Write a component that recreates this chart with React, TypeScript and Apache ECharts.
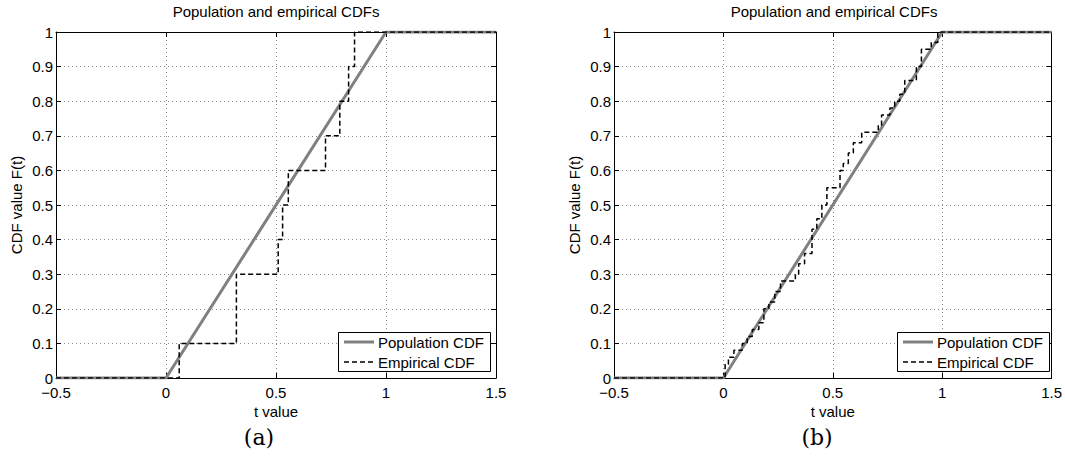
import React, { useEffect, useRef } from "react";
import * as echarts from "echarts";

const X_MIN = -0.5;
const X_MAX = 1.5;
const X_STEP = 0.5;
const Y_MIN = 0;
const Y_MAX = 1;
const Y_STEP = 0.1;

const TITLE = "Population and empirical CDFs";
const X_NAME = "t value";
const Y_NAME = "CDF value F(t)";
const PANEL_LABELS = ["(a)", "(b)"];
const LEGEND_NAMES = ["Population CDF", "Empirical CDF"];

// Population CDF (uniform on [0,1])
const popT = [-0.5, 0, 1, 1.5];
const popF = [0, 0, 1, 1];

// Empirical CDF (a): jump locations and levels after jump
const empAT = [0.06, 0.32, 0.51, 0.53, 0.556, 0.725, 0.79, 0.83, 0.857];
const empAF = [0.1, 0.3, 0.4, 0.5, 0.6, 0.7, 0.8, 0.9, 1.0];

// Empirical CDF (b)
const empBT = [0.008, 0.023, 0.048, 0.086, 0.109, 0.132, 0.162, 0.185, 0.208, 0.235, 0.261, 0.329, 0.344, 0.371, 0.405, 0.427, 0.45, 0.473, 0.533, 0.548, 0.571, 0.594, 0.632, 0.708, 0.723, 0.761, 0.783, 0.806, 0.829, 0.882, 0.905, 0.95, 0.98];
const empBF = [0.04, 0.06, 0.08, 0.1, 0.12, 0.14, 0.16, 0.2, 0.22, 0.25, 0.28, 0.3, 0.33, 0.36, 0.43, 0.46, 0.5, 0.55, 0.6, 0.62, 0.65, 0.68, 0.71, 0.73, 0.76, 0.78, 0.8, 0.82, 0.86, 0.9, 0.95, 0.97, 1.0];

const FONT = "'Liberation Sans', Arial, Helvetica, sans-serif";
const SERIF = "'DejaVu Serif', 'Liberation Serif', serif";
const POP_COLOR = "#808080";
const EMP_DASH = [5, 3];

function empData(ts: number[], fs: number[]) {
  const d: number[][] = [[X_MIN, 0]];
  ts.forEach((t, i) => d.push([t, fs[i]]));
  d.push([X_MAX, fs[fs.length - 1]]);
  return d;
}

const fmtX = (v: number) => (v < 0 ? "\u2212" + String(-v) : String(v));
const fmtY = (v: number) => String(Math.round(v * 10) / 10);

export default function App() {
  const ref = useRef<HTMLDivElement>(null);
  useEffect(() => {
    if (!ref.current) return;
    const chart = echarts.init(ref.current, undefined, { renderer: "svg" });
    const grids = [
      { left: 56, right: 569, top: 32, bottom: 80 },
      { left: 614, right: 11, top: 32, bottom: 80 },
    ];
    const xAxes: any[] = [];
    const yAxes: any[] = [];
    const tickStyle = { show: true, inside: true, length: 5, lineStyle: { color: "#000" } };
    const lineStyle = { show: true, onZero: false, lineStyle: { color: "#000", width: 1 } };
    const gridLine = { show: true, lineStyle: { color: "#8a8a8a", type: [1, 3], width: 1 } };
    grids.forEach((_, gi) => {
      xAxes.push({
        type: "value", gridIndex: gi, min: X_MIN, max: X_MAX, interval: X_STEP,
        position: "bottom",
        name: X_NAME, nameLocation: "middle", nameGap: 21,
        nameTextStyle: { fontFamily: FONT, fontSize: 15, color: "#000" },
        axisLine: lineStyle, axisTick: tickStyle,
        axisLabel: { formatter: fmtX, fontFamily: FONT, fontSize: 15, color: "#000", margin: 8, lineHeight: 12 },
        splitLine: gridLine,
      });
      xAxes.push({
        type: "value", gridIndex: gi, min: X_MIN, max: X_MAX, interval: X_STEP,
        position: "top",
        axisLine: lineStyle, axisTick: tickStyle,
        axisLabel: { show: false }, splitLine: { show: false },
      });
      yAxes.push({
        type: "value", gridIndex: gi, min: Y_MIN, max: Y_MAX, interval: Y_STEP,
        position: "left",
        name: Y_NAME, nameLocation: "middle", nameGap: 32,
        nameTextStyle: { fontFamily: FONT, fontSize: 15, color: "#000" },
        axisLine: lineStyle, axisTick: tickStyle,
        axisLabel: { formatter: fmtY, fontFamily: FONT, fontSize: 15, color: "#000", margin: 3, lineHeight: 11 },
        splitLine: gridLine,
      });
      yAxes.push({
        type: "value", gridIndex: gi, min: Y_MIN, max: Y_MAX, interval: Y_STEP,
        position: "right",
        axisLine: lineStyle, axisTick: tickStyle,
        axisLabel: { show: false }, splitLine: { show: false },
      });
    });

    const popData = popT.map((t, i) => [t, popF[i]]);
    const empSets = [empData(empAT, empAF), empData(empBT, empBF)];
    const series: any[] = [];
    grids.forEach((_, gi) => {
      series.push({
        type: "line", name: LEGEND_NAMES[0], xAxisIndex: gi * 2, yAxisIndex: gi * 2,
        data: popData, symbol: "none", showSymbol: false,
        lineStyle: { color: POP_COLOR, width: 3 }, itemStyle: { color: POP_COLOR },
        silent: true,
      });
      series.push({
        type: "line", name: LEGEND_NAMES[1], xAxisIndex: gi * 2, yAxisIndex: gi * 2,
        data: empSets[gi], step: "end", symbol: "none", showSymbol: false,
        lineStyle: { color: "#000", width: 1.5, type: EMP_DASH }, itemStyle: { color: "#000" },
        silent: true,
      });
    });

    const graphics: any[] = [];
    const titleCenters = [276, 834];
    const labelCenters = [259, 817];
    const legendLefts = [338, 897];
    titleCenters.forEach((cx, i) => {
      graphics.push({
        type: "text", x: cx, y: 11,
        style: { text: TITLE, fontFamily: FONT, fontSize: 15, fill: "#000", textAlign: "center", textVerticalAlign: "middle" },
      });
      graphics.push({
        type: "text", x: labelCenters[i], y: 437,
        style: { text: PANEL_LABELS[i], fontFamily: SERIF, fontSize: 22, fill: "#000", textAlign: "center", textVerticalAlign: "middle" },
      });
      const lx = legendLefts[i];
      graphics.push({
        type: "rect", shape: { x: lx + 0.5, y: 332.5, width: 152, height: 39 },
        style: { fill: "#fff", stroke: "#000", lineWidth: 1 }, z: 10,
      });
      graphics.push({
        type: "line", shape: { x1: lx + 6, y1: 342, x2: lx + 36, y2: 342 },
        style: { stroke: POP_COLOR, lineWidth: 3 }, z: 11,
      });
      graphics.push({
        type: "line", shape: { x1: lx + 6, y1: 362, x2: lx + 36, y2: 362 },
        style: { stroke: "#000", lineWidth: 1.5, lineDash: EMP_DASH }, z: 11,
      });
      LEGEND_NAMES.forEach((nm, k) => {
        graphics.push({
          type: "text", x: lx + 40, y: 342 + k * 20, z: 11,
          style: { text: nm, fontFamily: FONT, fontSize: 15, fill: "#000", textAlign: "left", textVerticalAlign: "middle" },
        });
      });
    });

    chart.setOption({
      animation: false,
      backgroundColor: "#fff",
      grid: grids.map((g) => ({ ...g, show: false, containLabel: false })),
      xAxis: xAxes,
      yAxis: yAxes,
      series,
      graphic: graphics,
    });
    return () => chart.dispose();
  }, []);
  return (
    <div
      ref={ref}
      style={{ position: "fixed", left: 0, top: 0, width: 1065, height: 458 }}
    />
  );
}
